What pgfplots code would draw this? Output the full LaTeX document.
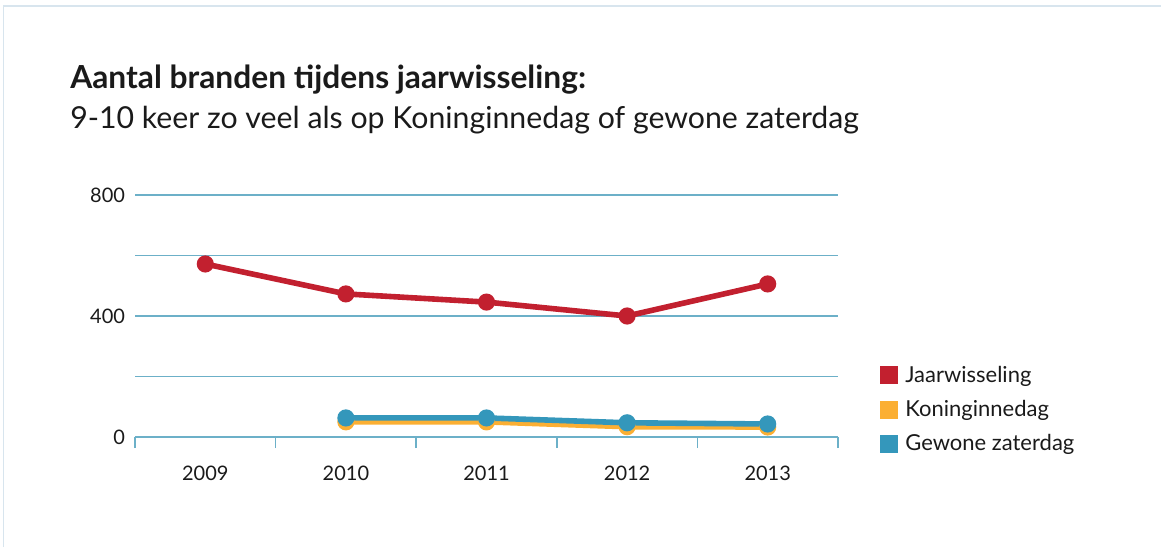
\documentclass[border=0pt]{standalone}
\usepackage{pgfplots}
\pgfplotsset{compat=1.18}
\usepackage{fontspec}
\setmainfont{Lato}
\definecolor{jred}{HTML}{C2202F}
\definecolor{korange}{HTML}{FBAF33}
\definecolor{gblue}{HTML}{3497BB}
\definecolor{gridc}{HTML}{6CB0C8}
\definecolor{txt}{HTML}{1A1A1A}
\definecolor{frame}{HTML}{D8E5EE}

\begin{document}
\begin{tikzpicture}[x=1pt,y=1pt]
% card outline (1px = 0.75pt)
\path[use as bounding box] (0,0) rectangle (870.75,410.25);
\draw[frame, line width=1pt] (2.5,0) -- (2.5,405.75) -- (870.75,405.75);

\node[anchor=base west, text=txt, inner sep=0pt, font=\fontsize{23.8}{28}\selectfont\bfseries]
  at (52.5,343.5) {Aantal branden tijdens jaarwisseling:};
\node[anchor=base west, text=txt, inner sep=0pt, font=\fontsize{22.7}{27}\selectfont]
  at (52.5,313.5) {9-10 keer zo veel als op Koninginnedag of gewone zaterdag};

\begin{axis}[
    at={(101.25pt,82.5pt)}, anchor=south west,
    scale only axis,
    width=527.25pt, height=181.5pt,
    xmin=-0.5, xmax=4.5,
    ymin=0, ymax=800,
    clip=false,
    axis lines*=left,
    axis line style={gridc, line width=1.1pt},
    y axis line style={draw=none},
    xtick={0,1,2,3,4},
    xticklabels={2009,2010,2011,2012,2013},
    extra x ticks={-0.5,0.5,1.5,2.5,3.5,4.5},
    extra x tick labels={},
    extra x tick style={major tick length=8.25pt, tick align=outside},
    major tick length=0pt,
    x tick style={gridc, line width=1.1pt},
    ytick={0,200,400,600,800},
    yticklabels={0,,400,,800},
    ytick style={draw=none},
    ymajorgrids=true,
    grid style={gridc, line width=1.1pt},
    tick label style={text=txt, font=\fontsize{15}{18}\selectfont},
    /pgf/number format/assume math mode=true,
    xticklabel style={anchor=center, yshift=-27pt},
    yticklabel style={anchor=east, xshift=-4pt},
    legend style={at={(1.06,0.3)}, anchor=north west, draw=none, fill=none,
        font=\fontsize{16.5}{19}\selectfont, text=txt, row sep=10pt,
        inner sep=0pt, nodes={inner sep=1pt},
        /tikz/every odd column/.append style={column sep=4.5pt}},
    legend cell align=left,
]

\addplot[korange, line width=4.2pt, mark=*, mark size=4.3pt, forget plot]
  coordinates {(1,50)(2,50)(3,34)(4,33)};
\addplot[gblue, line width=4.2pt, mark=*, mark size=4.3pt, forget plot]
  coordinates {(1,63)(2,63)(3,47)(4,43)};
\addplot[jred, line width=4.2pt, mark=*, mark size=4.3pt, forget plot]
  coordinates {(0,572)(1,473)(2,446)(3,400)(4,506)};

\addlegendimage{legend image code/.code={\fill[jred] (0pt,-6.4pt) rectangle (12.75pt,6.4pt);}}
\addlegendentry{Jaarwisseling}
\addlegendimage{legend image code/.code={\fill[korange] (0pt,-6.4pt) rectangle (12.75pt,6.4pt);}}
\addlegendentry{Koninginnedag}
\addlegendimage{legend image code/.code={\fill[gblue] (0pt,-6.4pt) rectangle (12.75pt,6.4pt);}}
\addlegendentry{Gewone zaterdag}
\end{axis}
\end{tikzpicture}
\end{document}
